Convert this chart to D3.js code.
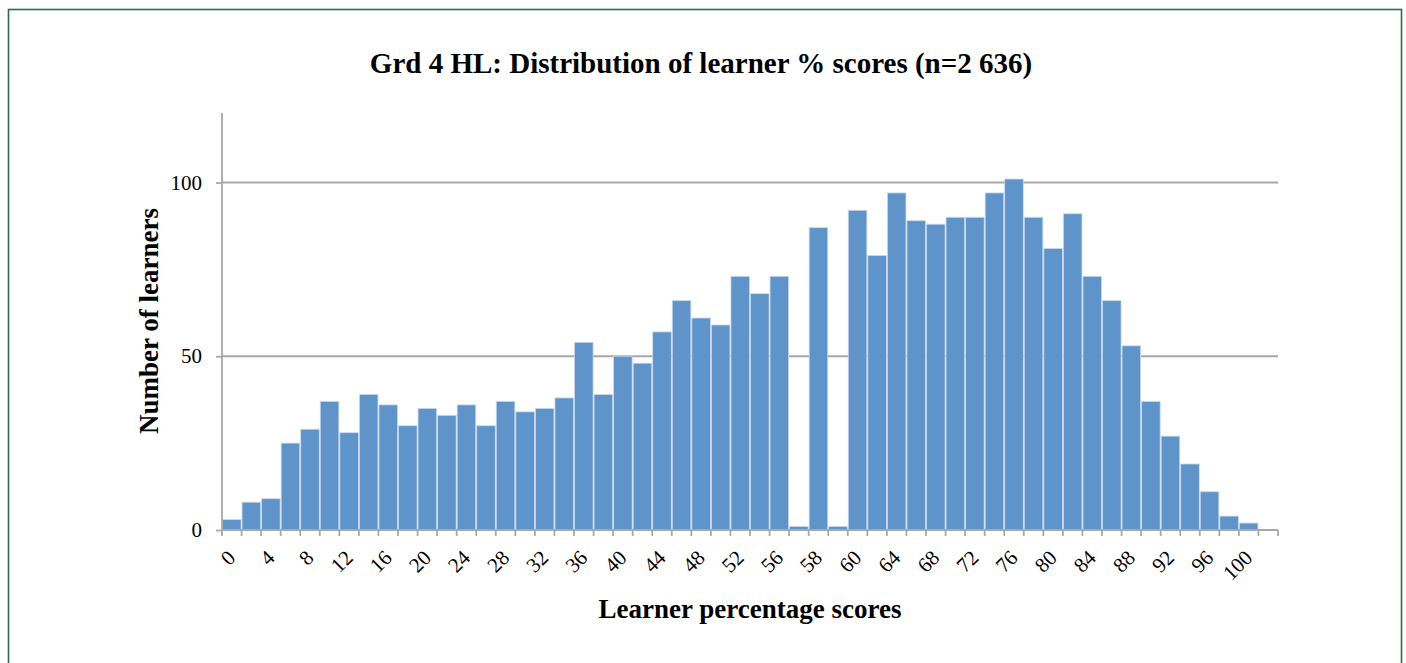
<!DOCTYPE html>
<html>
<head>
<meta charset="utf-8">
<script src="https://cdn.jsdelivr.net/npm/d3@7"></script>
<style>
  html, body { margin: 0; padding: 0; background: #fff; }
  svg { display: block; }
</style>
</head>
<body>
<div id="chart"></div>
<script>
// score categories (only every second one gets a label on the axis)
const categories = [
  "0", "2", "4", "6", "8", "10", "12", "14", "16", "18",
  "20", "22", "24", "26", "28", "30", "32", "34", "36", "38",
  "40", "42", "44", "46", "48", "50", "52", "54", "56", "57",
  "58", "59", "60", "62", "64", "66", "68", "70", "72", "74",
  "76", "78", "80", "82", "84", "86", "88", "90", "92", "94",
  "96", "98", "100", ""
];

// number of learners per category (sums to 2 636)
const learners = [
  3, 8, 9, 25, 29, 37, 28, 39, 36, 30,
  35, 33, 36, 30, 37, 34, 35, 38, 54, 39,
  50, 48, 57, 66, 61, 59, 73, 68, 73, 1,
  87, 1, 92, 79, 97, 89, 88, 90, 90, 97,
  101, 90, 81, 91, 73, 66, 53, 37, 27, 19,
  11, 4, 2, null
];

const yTicks = [0, 50, 100];

const titleText = "Grd 4 HL: Distribution of learner % scores (n=2 636)";
const xTitle = "Learner percentage scores";
const yTitle = "Number of learners";

const W = 1406, H = 663;
const plot = { left: 222, right: 1278, top: 113, bottom: 530 };
const serif = "'Times New Roman', 'Liberation Serif', serif";

const svg = d3.select("#chart")
  .append("svg")
  .attr("width", W)
  .attr("height", H);

// outer green frame
svg.append("rect")
  .attr("x", 8.5)
  .attr("y", 9.5)
  .attr("width", 1393)
  .attr("height", 700)
  .attr("fill", "none")
  .attr("stroke", "#2d6b4c")
  .attr("stroke-width", 1.6);

const data = categories.map((c, i) => ({ cat: c, value: learners[i] }));

const x = d3.scaleBand()
  .domain(categories)
  .range([plot.left, plot.right])
  .paddingInner(0.05)
  .paddingOuter(0.025);

const y = d3.scaleLinear()
  .domain([0, 120])
  .range([plot.bottom, plot.top]);

// gridlines
svg.append("g")
  .selectAll("line")
  .data(yTicks.filter(d => d > 0))
  .join("line")
  .attr("x1", plot.left)
  .attr("x2", plot.right)
  .attr("y1", d => y(d))
  .attr("y2", d => y(d))
  .attr("stroke", "#a8a8a8")
  .attr("stroke-width", 1.8);

// bars
svg.append("g")
  .selectAll("rect")
  .data(data.filter(d => d.value != null))
  .join("rect")
  .attr("x", d => x(d.cat))
  .attr("y", d => y(d.value))
  .attr("width", x.bandwidth())
  .attr("height", d => y(0) - y(d.value))
  .attr("fill", "#5f94ca")
  .attr("stroke", "#c9d9ec")
  .attr("stroke-width", 0.8);

// y axis
const yAxis = svg.append("g")
  .attr("transform", `translate(${plot.left},0)`)
  .call(d3.axisLeft(y).tickValues(yTicks).tickSize(6).tickPadding(14));
yAxis.select(".domain").attr("stroke", "#a8a8a8").attr("stroke-width", 1.8)
  .attr("d", `M0,${plot.top}V${plot.bottom}`);
yAxis.selectAll(".tick line").attr("stroke", "#a8a8a8").attr("stroke-width", 1.8);
yAxis.selectAll(".tick text")
  .attr("font-family", serif)
  .attr("font-size", 21)
  .attr("fill", "#000");

// x axis: line + tick marks at category boundaries
const xg = svg.append("g");
xg.append("line")
  .attr("x1", plot.left)
  .attr("x2", plot.right)
  .attr("y1", plot.bottom)
  .attr("y2", plot.bottom)
  .attr("stroke", "#a8a8a8")
  .attr("stroke-width", 1.8);
xg.selectAll("line.tk")
  .data(d3.range(categories.length + 1))
  .join("line")
  .attr("class", "tk")
  .attr("x1", i => plot.left + i * (plot.right - plot.left) / categories.length)
  .attr("x2", i => plot.left + i * (plot.right - plot.left) / categories.length)
  .attr("y1", plot.bottom)
  .attr("y2", plot.bottom + 6)
  .attr("stroke", "#a8a8a8")
  .attr("stroke-width", 1.8);

// rotated category labels, every second category
xg.selectAll("text")
  .data(categories.filter((c, i) => i % 2 === 0))
  .join("text")
  .attr("transform", c => `translate(${x(c) + x.bandwidth() / 2 + 5},${plot.bottom + 29}) rotate(-45)`)
  .attr("text-anchor", "end")
  .attr("font-family", serif)
  .attr("font-size", 21)
  .attr("fill", "#000")
  .text(c => c);

// titles
svg.append("text")
  .attr("x", 701)
  .attr("y", 73)
  .attr("text-anchor", "middle")
  .attr("font-family", serif)
  .attr("font-weight", "bold")
  .attr("font-size", 29)
  .text(titleText);

svg.append("text")
  .attr("x", 750)
  .attr("y", 618)
  .attr("text-anchor", "middle")
  .attr("font-family", serif)
  .attr("font-weight", "bold")
  .attr("font-size", 27)
  .text(xTitle);

svg.append("text")
  .attr("transform", "translate(158,321) rotate(-90)")
  .attr("text-anchor", "middle")
  .attr("font-family", serif)
  .attr("font-weight", "bold")
  .attr("font-size", 27)
  .text(yTitle);
</script>
</body>
</html>
